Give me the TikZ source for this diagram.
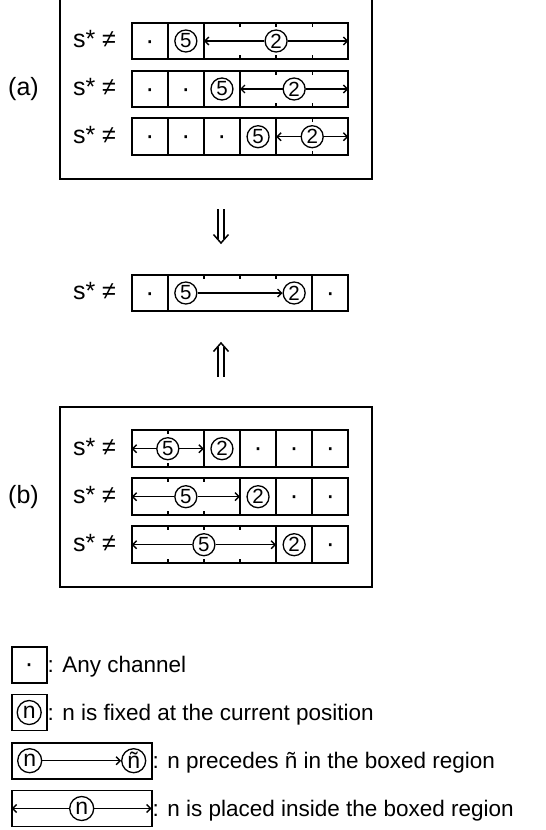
\documentclass[tikz,border=0pt]{standalone}
\usepackage{fontspec}
\setmainfont{Liberation Sans}
\usetikzlibrary{arrows.meta}
\begin{document}
\begin{tikzpicture}[x=1pt,y=-1pt,
  frame/.style={line width=1.9pt},
  cellline/.style={line width=1.9pt},
  tickline/.style={line width=1.4pt},
  circ/.style={draw, circle, line width=1.3pt, inner sep=0pt, minimum size=22pt, font=\fontsize{20.5}{20.5}\selectfont},
  lcirc/.style={circ, minimum size=24pt, font=\fontsize{23}{23}\selectfont},
  lbl/.style={anchor=base, inner sep=0pt, yshift=-6.5pt, font=\fontsize{25}{25}\selectfont},
  ltext/.style={anchor=base west, inner sep=0pt, yshift=-7.7pt, font=\fontsize{22.5}{22.5}\selectfont},
  dotc/.style={anchor=base, inner sep=0pt, yshift=-8pt, font=\fontsize{27}{27}\selectfont},
  arr/.style={line width=1.4pt, -{Straight Barb[length=4pt,width=8pt]}},
  dblshaft/.style={line width=1.5pt},
]
\useasboundingbox (0,0) rectangle (546,830);

% ---------------- box (a)
\draw[frame] (60,-3) rectangle (372,179);
\node[lbl] (la) at (23.5,89) {(a)};

% row a1
\def\yc{41}
\node[lbl] (sa1) at (94.5,\yc) {s* ≠};
\draw[cellline] (131.7,\yc-18.3) rectangle (348.3,\yc+18.3);
\foreach \x in {167.8,203.9} \draw[cellline] (\x,\yc-18.3) -- (\x,\yc+18.3);
\foreach \x in {240.0,276.1,312.2} {\draw[tickline] (\x,\yc-18.3) -- ++(0,4); \draw[tickline] (\x,\yc+18.3) -- ++(0,-4);}
\node[dotc] (a1d1) at (149.75,\yc) {·};
\node[circ] (a1f) at (185.85,\yc) {5};
\node[circ] (a1s) at (276.1,\yc) {2};
\coordinate (a1L) at (203.9,\yc);
\coordinate (a1R) at (348.3,\yc);
\draw[arr] (a1s.west) -- (a1L);
\draw[arr] (a1s.east) -- (a1R);

% row a2
\def\yc{89}
\node[lbl] (sa2) at (94.5,\yc) {s* ≠};
\draw[cellline] (131.7,\yc-18.3) rectangle (348.3,\yc+18.3);
\foreach \x in {167.8,203.9,240.0} \draw[cellline] (\x,\yc-18.3) -- (\x,\yc+18.3);
\foreach \x in {276.1,312.2} {\draw[tickline] (\x,\yc-18.3) -- ++(0,4); \draw[tickline] (\x,\yc+18.3) -- ++(0,-4);}
\node[dotc] (a2d1) at (149.75,\yc) {·};
\node[dotc] (a2d2) at (185.85,\yc) {·};
\node[circ] (a2f) at (221.95,\yc) {5};
\node[circ] (a2s) at (294.15,\yc) {2};
\coordinate (a2L) at (240.0,\yc);
\coordinate (a2R) at (348.3,\yc);
\draw[arr] (a2s.west) -- (a2L);
\draw[arr] (a2s.east) -- (a2R);

% row a3
\def\yc{136.7}
\node[lbl] (sa3) at (94.5,\yc) {s* ≠};
\draw[cellline] (131.7,\yc-18.3) rectangle (348.3,\yc+18.3);
\foreach \x in {167.8,203.9,240.0,276.1} \draw[cellline] (\x,\yc-18.3) -- (\x,\yc+18.3);
\foreach \x in {312.2} {\draw[tickline] (\x,\yc-18.3) -- ++(0,4); \draw[tickline] (\x,\yc+18.3) -- ++(0,-4);}
\node[dotc] (a3d1) at (149.75,\yc) {·};
\node[dotc] (a3d2) at (185.85,\yc) {·};
\node[dotc] (a3d3) at (221.95,\yc) {·};
\node[circ] (a3f) at (258.05,\yc) {5};
\node[circ] (a3s) at (312.2,\yc) {2};
\coordinate (a3L) at (276.1,\yc);
\coordinate (a3R) at (348.3,\yc);
\draw[arr] (a3s.west) -- (a3L);
\draw[arr] (a3s.east) -- (a3R);

% ---------------- down arrow
\coordinate (dnT) at (221,209);
\coordinate (dnB) at (221,243);
\draw[dblshaft] ([xshift=-3pt]dnT) -- ([xshift=-3pt,yshift=4pt]dnB);
\draw[dblshaft] ([xshift=3pt]dnT) -- ([xshift=3pt,yshift=4pt]dnB);
\draw[dblshaft, line join=miter] ([xshift=-7.5pt,yshift=8.5pt]dnB) -- (dnB) -- ([xshift=7.5pt,yshift=8.5pt]dnB);

% ---------------- middle row
\def\yc{293}
\node[lbl] (sm) at (94.5,\yc) {s* ≠};
\draw[cellline] (131.7,\yc-18.3) rectangle (348.3,\yc+18.3);
\foreach \x in {167.8,312.2} \draw[cellline] (\x,\yc-18.3) -- (\x,\yc+18.3);
\foreach \x in {203.9,240.0,276.1} {\draw[tickline] (\x,\yc-18.3) -- ++(0,4);}
\node[dotc] (md1) at (149.75,\yc) {·};
\node[circ] (mf) at (185.85,\yc) {5};
\node[circ] (ms) at (294.15,\yc) {2};
\node[dotc] (md6) at (330.25,\yc) {·};
\draw[arr] (mf.east) -- (ms.west);

% ---------------- up arrow
\coordinate (upT) at (221,343);
\coordinate (upB) at (221,377);
\draw[dblshaft] ([xshift=-3pt,yshift=-4pt]upT) -- ([xshift=-3pt]upB);
\draw[dblshaft] ([xshift=3pt,yshift=-4pt]upT) -- ([xshift=3pt]upB);
\draw[dblshaft, line join=miter] ([xshift=-7.5pt,yshift=-8.5pt]upT) -- (upT) -- ([xshift=7.5pt,yshift=-8.5pt]upT);

% ---------------- box (b)
\draw[frame] (60,406.7) rectangle (371.7,587);
\node[lbl] (lb) at (23.5,496.7) {(b)};

% row b1
\def\yc{448.7}
\node[lbl] (sb1) at (94.5,\yc) {s* ≠};
\draw[cellline] (131.7,\yc-18.3) rectangle (348.3,\yc+18.3);
\foreach \x in {203.9,240.0,276.1,312.2} \draw[cellline] (\x,\yc-18.3) -- (\x,\yc+18.3);
\foreach \x in {167.8} {\draw[tickline] (\x,\yc-18.3) -- ++(0,4); \draw[tickline] (\x,\yc+18.3) -- ++(0,-4);}
\node[circ] (b1f) at (167.8,\yc) {5};
\node[circ] (b1s) at (221.95,\yc) {2};
\node[dotc] (b1d4) at (258.05,\yc) {·};
\node[dotc] (b1d5) at (294.15,\yc) {·};
\node[dotc] (b1d6) at (330.25,\yc) {·};
\coordinate (b1L) at (131.7,\yc);
\coordinate (b1R) at (203.9,\yc);
\draw[arr] (b1f.west) -- (b1L);
\draw[arr] (b1f.east) -- (b1R);

% row b2
\def\yc{496.7}
\node[lbl] (sb2) at (94.5,\yc) {s* ≠};
\draw[cellline] (131.7,\yc-18.3) rectangle (348.3,\yc+18.3);
\foreach \x in {240.0,276.1,312.2} \draw[cellline] (\x,\yc-18.3) -- (\x,\yc+18.3);
\foreach \x in {167.8,203.9} {\draw[tickline] (\x,\yc-18.3) -- ++(0,4); \draw[tickline] (\x,\yc+18.3) -- ++(0,-4);}
\node[circ] (b2f) at (185.85,\yc) {5};
\node[circ] (b2s) at (258.05,\yc) {2};
\node[dotc] (b2d5) at (294.15,\yc) {·};
\node[dotc] (b2d6) at (330.25,\yc) {·};
\coordinate (b2L) at (131.7,\yc);
\coordinate (b2R) at (240.0,\yc);
\draw[arr] (b2f.west) -- (b2L);
\draw[arr] (b2f.east) -- (b2R);

% row b3
\def\yc{544.7}
\node[lbl] (sb3) at (94.5,\yc) {s* ≠};
\draw[cellline] (131.7,\yc-18.3) rectangle (348.3,\yc+18.3);
\foreach \x in {276.1,312.2} \draw[cellline] (\x,\yc-18.3) -- (\x,\yc+18.3);
\foreach \x in {167.8,203.9,240.0} {\draw[tickline] (\x,\yc-18.3) -- ++(0,4); \draw[tickline] (\x,\yc+18.3) -- ++(0,-4);}
\node[circ] (b3f) at (203.9,\yc) {5};
\node[circ] (b3s) at (294.15,\yc) {2};
\node[dotc] (b3d6) at (330.25,\yc) {·};
\coordinate (b3L) at (131.7,\yc);
\coordinate (b3R) at (276.1,\yc);
\draw[arr] (b3f.west) -- (b3L);
\draw[arr] (b3f.east) -- (b3R);

% ---------------- legend
% 1
\draw[cellline] (11.7,646.7) rectangle (46.7,682.7);
\node[dotc] (g1d) at (29.2,664.7) {·};
\node[ltext] (g1t) at (47.5,664.7) {: Any channel};
% 2
\draw[cellline] (11.7,694.5) rectangle (46.7,730.5);
\node[lcirc] (g2c) at (29.2,712.5) {n};
\node[ltext] (g2t) at (47.5,712.5) {: n is fixed at the current position};
% 3
\draw[cellline] (11.7,742.7) rectangle (151.7,778.7);
\node[lcirc] (g3a) at (29.7,760.7) {n};
\node[lcirc] (g3b) at (133.7,760.7) {ñ};
\draw[arr] (g3a.east) -- (g3b.west);
\node[ltext] (g3t) at (152.5,760.7) {: n precedes ñ in the boxed region};
% 4
\draw[cellline] (11.7,790.5) rectangle (151.7,826.5);
\node[lcirc] (g4c) at (81.7,808.5) {n};
\coordinate (g4L) at (11.7,808.5);
\coordinate (g4R) at (151.7,808.5);
\draw[arr] (g4c.west) -- (g4L);
\draw[arr] (g4c.east) -- (g4R);
\node[ltext] (g4t) at (152.5,808.5) {: n is placed inside the boxed region};
\end{tikzpicture}
\end{document}
